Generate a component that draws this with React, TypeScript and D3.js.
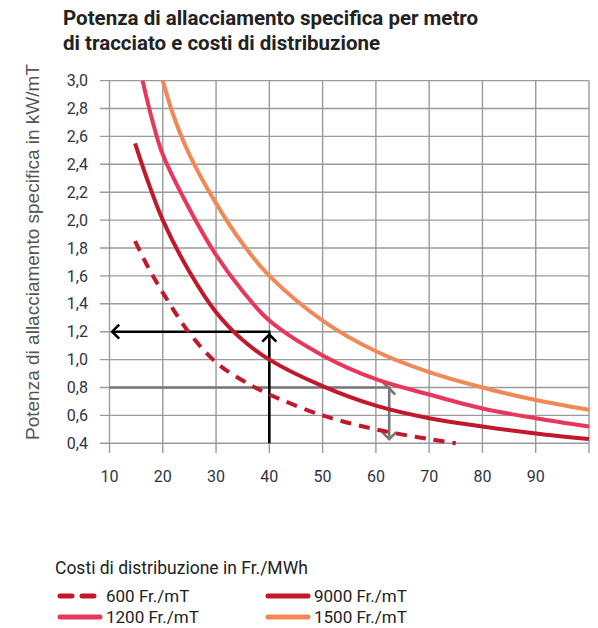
import React from "react";
import * as d3 from "d3";

// costi di distribuzione: curve (x = costi Fr./MWh, y = kW/mT)
const curve600 = [
  [14.8, 1.85], [17, 1.68], [20, 1.48], [25, 1.19], [30, 0.98], [35, 0.85],
  [40, 0.75], [50, 0.6], [60, 0.5], [70, 0.43], [75, 0.4],
];
const curve9000 = [
  [14.8, 2.55], [17, 2.3], [20, 2.0], [25, 1.63], [30, 1.34], [35, 1.14],
  [40, 1.0], [50, 0.81], [60, 0.67], [70, 0.58], [80, 0.52], [90, 0.47], [100, 0.43],
];
const curve1200 = [
  [16.2, 3.0], [18, 2.72], [20, 2.47], [25, 2.08], [30, 1.75], [35, 1.49],
  [40, 1.28], [50, 1.03], [60, 0.86], [70, 0.75], [80, 0.65], [90, 0.58], [100, 0.52],
];
const curve1500 = [
  [20, 3.0], [22, 2.75], [25, 2.47], [30, 2.12], [35, 1.83], [40, 1.6],
  [50, 1.28], [60, 1.06], [70, 0.91], [80, 0.8], [90, 0.71], [100, 0.64],
];

const series = [
  { name: "600 Fr./mT", data: curve600, color: "#c2182b", dashed: true },
  { name: "9000 Fr./mT", data: curve9000, color: "#c2182b", dashed: false },
  { name: "1200 Fr./mT", data: curve1200, color: "#e8375b", dashed: false },
  { name: "1500 Fr./mT", data: curve1500, color: "#f08857", dashed: false },
];

const xTicks = [10, 20, 30, 40, 50, 60, 70, 80, 90, 100];
const xLabels = [10, 20, 30, 40, 50, 60, 70, 80, 90];
const yTicks = [0.4, 0.6, 0.8, 1.0, 1.2, 1.4, 1.6, 1.8, 2.0, 2.2, 2.4, 2.6, 2.8, 3.0];

// esempi di lettura (frecce)
const blackPath = [[40, 0.4], [40, 1.2], [10.5, 1.2]];
const grayPath = [[10, 0.8], [62.5, 0.8], [62.5, 0.43]];

const font = "'Roboto', sans-serif";

export default function App() {
  const x = d3.scaleLinear().domain([10, 100]).range([109.5, 589]);
  const y = d3.scaleLinear().domain([0.4, 3.0]).range([443.3, 80.6]);

  const line = d3
    .line<number[]>()
    .x((d) => x(d[0]))
    .y((d) => y(d[1]))
    .curve(d3.curveCatmullRom.alpha(0.5));

  const poly = d3
    .line<number[]>()
    .x((d) => x(d[0]))
    .y((d) => y(d[1]));

  const chevron = (px: number, py: number, dir: string, s = 7) => {
    if (dir === "up") return `M${px - s},${py + s} L${px},${py} L${px + s},${py + s}`;
    if (dir === "down") return `M${px - s},${py - s} L${px},${py} L${px + s},${py - s}`;
    if (dir === "left") return `M${px + s},${py - s} L${px},${py} L${px + s},${py + s}`;
    return `M${px - s},${py - s} L${px},${py} L${px + s},${py + s}`;
  };

  const legendPos = [
    { x: 58, y: 596 },
    { x: 266, y: 596 },
    { x: 58, y: 617 },
    { x: 266, y: 617 },
  ];

  return (
    <svg
      width={598}
      height={628}
      style={{ position: "absolute", left: 0, top: 0, background: "#fff" }}
      fontFamily={font}
    >
      <text x={63} y={25} fontSize={20.5} fontWeight="bold" fill="#222">
        Potenza di allacciamento specifica per metro
      </text>
      <text x={63} y={50} fontSize={20.5} fontWeight="bold" fill="#222">
        di tracciato e costi di distribuzione
      </text>

      <text
        transform={`translate(39,252) rotate(-90)`}
        textAnchor="middle"
        fontSize={19}
        fill="#555"
        fontFamily="'Liberation Sans', 'Open Sans', sans-serif"
      >
        Potenza di allacciamento specifica in kW/mT
      </text>

      {/* griglia */}
      <g stroke="#9a9a9a" strokeWidth={1.4}>
        {yTicks.map((t) => (
          <line key={"h" + t} x1={100} x2={589} y1={y(t)} y2={y(t)} />
        ))}
        {xTicks.map((t) => (
          <line key={"v" + t} x1={x(t)} x2={x(t)} y1={y(3.0)} y2={453} />
        ))}
      </g>

      <g fontSize={16} fill="#2e3444">
        {yTicks.map((t) => (
          <text key={"yl" + t} x={88} y={y(t)} dy="0.35em" textAnchor="end">
            {d3.format(".1f")(t).replace(".", ",")}
          </text>
        ))}
        {xLabels.map((t) => (
          <text key={"xl" + t} x={x(t)} y={482} textAnchor="middle">
            {t}
          </text>
        ))}
      </g>

      {/* frecce */}
      <g fill="none" strokeWidth={2.6}>
        <path d={poly(grayPath) || ""} stroke="#777" />
        <path d={chevron(x(62.5) - 1, y(0.8), "right")} stroke="#777" />
        <path d={chevron(x(62.5), y(0.43), "down")} stroke="#777" />
        <path d={poly(blackPath) || ""} stroke="#000" />
        <path d={chevron(x(40), y(1.2) + 3, "up")} stroke="#000" />
        <path d={chevron(x(10.5), y(1.2), "left")} stroke="#000" />
      </g>

      {series.map((s) => (
        <path
          key={s.name}
          d={line(s.data) || ""}
          fill="none"
          stroke={s.color}
          strokeWidth={4}
          strokeDasharray={s.dashed ? "11 8" : undefined}
        />
      ))}

      {/* legenda */}
      <text x={55} y={574} fontSize={17.5} fill="#222">
        Costi di distribuzione in Fr./MWh
      </text>
      {series.map((s, i) => (
        <g key={"lg" + s.name}>
          <line
            x1={legendPos[i].x + 2}
            x2={legendPos[i].x + 42}
            y1={legendPos[i].y}
            y2={legendPos[i].y}
            stroke={s.color}
            strokeWidth={5}
            strokeLinecap="round"
            strokeDasharray={s.dashed ? "12 10" : undefined}
          />
          <text x={legendPos[i].x + 48} y={legendPos[i].y + 6} fontSize={17} fill="#222">
            {s.name}
          </text>
        </g>
      ))}
    </svg>
  );
}
